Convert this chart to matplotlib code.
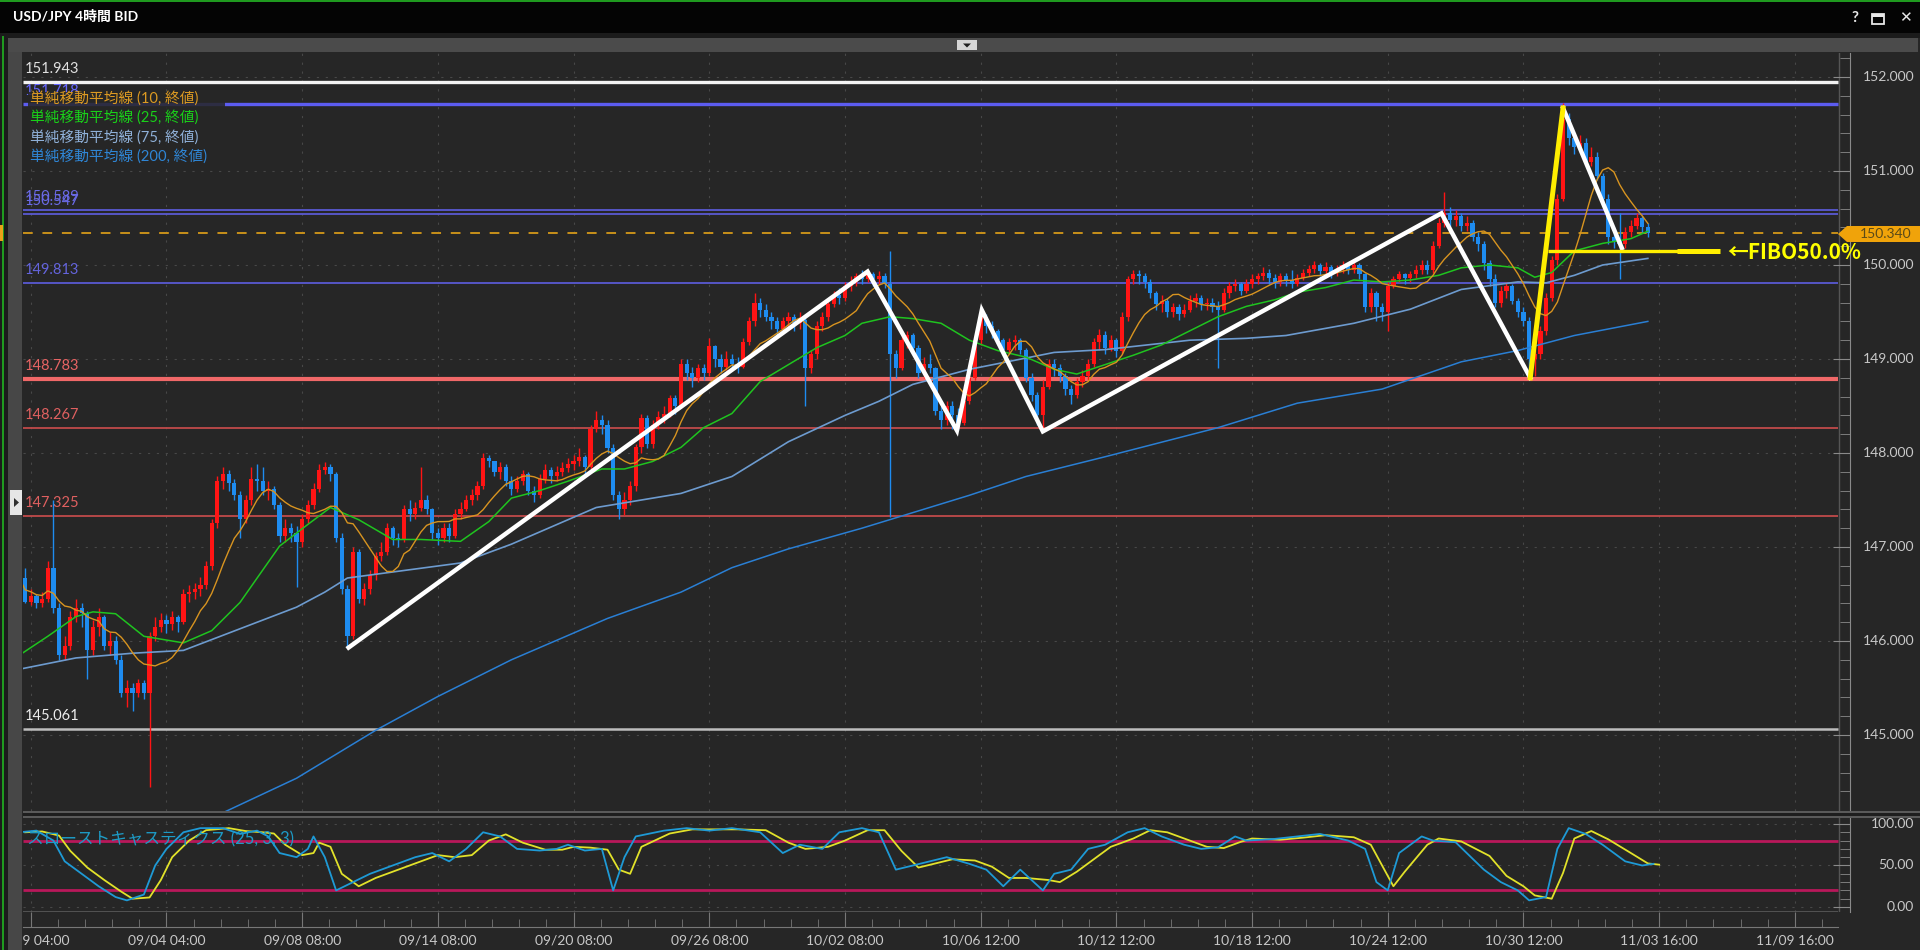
import numpy as np
import pandas as pd
import matplotlib
matplotlib.use("Agg")
import matplotlib.pyplot as plt
import matplotlib.transforms as mtransforms
from matplotlib.patches import Rectangle, Polygon

plt.rcParams['font.family'] = ['Lato', 'Noto Sans CJK JP', 'DejaVu Sans']

W, H = 1920, 950

#==============================================================
# data (4H candles, bar index -2 .. 286)
#==============================================================
first_bar = -2
open0 = 146.55
closes = [
    146.67, 146.42, 146.48, 146.40, 146.45, 146.78, 146.35, 145.85, 145.95, 146.25,
    146.35, 146.30, 145.90, 146.15, 146.25, 145.95, 146.00, 145.80, 145.45, 145.50,
    145.45, 145.55, 145.45, 146.05, 146.15, 146.22, 146.18, 146.25, 146.20, 146.50,
    146.52, 146.55, 146.60, 146.80, 147.25, 147.70, 147.78, 147.68, 147.55, 147.30,
    147.50, 147.72, 147.70, 147.60, 147.62, 147.45, 147.12, 147.20, 147.15, 147.05,
    147.30, 147.45, 147.62, 147.82, 147.85, 147.78, 147.10, 146.55, 146.05, 146.95,
    146.45, 146.55, 146.70, 146.90, 146.95, 147.20, 147.10, 147.08, 147.40, 147.35,
    147.42, 147.50, 147.40, 147.15, 147.10, 147.20, 147.12, 147.35, 147.40, 147.50,
    147.55, 147.65, 147.95, 147.92, 147.80, 147.85, 147.70, 147.62, 147.70, 147.78,
    147.60, 147.55, 147.72, 147.82, 147.75, 147.80, 147.84, 147.88, 147.92, 147.96,
    147.85, 148.25, 148.35, 148.30, 148.05, 147.55, 147.40, 147.50, 147.65, 148.06,
    148.37, 148.10, 148.30, 148.38, 148.42, 148.58, 148.50, 148.95, 148.85, 148.80,
    148.90, 148.85, 149.14, 149.00, 148.92, 149.00, 148.95, 148.92, 149.18, 149.40,
    149.60, 149.52, 149.45, 149.40, 149.32, 149.40, 149.45, 149.38, 149.42, 148.90,
    149.05, 149.35, 149.45, 149.58, 149.68, 149.65, 149.78, 149.82, 149.88, 149.85,
    149.90, 149.85, 149.88, 149.80, 149.05, 148.90, 149.20, 149.25, 149.12, 148.85,
    148.95, 148.90, 148.45, 148.35, 148.50, 148.40, 148.32, 148.55, 148.80, 149.20,
    149.45, 149.35, 149.30, 149.20, 149.10, 149.18, 149.20, 149.10, 148.80, 148.62,
    148.40, 148.70, 148.95, 148.90, 148.82, 148.68, 148.62, 148.75, 148.82, 148.95,
    149.18, 149.25, 149.12, 149.20, 149.08, 149.45, 149.85, 149.90, 149.88, 149.82,
    149.70, 149.58, 149.62, 149.50, 149.55, 149.48, 149.52, 149.62, 149.65, 149.58,
    149.60, 149.55, 149.52, 149.70, 149.78, 149.80, 149.72, 149.80, 149.85, 149.88,
    149.92, 149.86, 149.82, 149.88, 149.84, 149.80, 149.86, 149.92, 149.96, 150.00,
    149.94, 149.98, 149.92, 149.96, 150.00, 149.95, 150.00, 149.90, 149.55, 149.70,
    149.55, 149.50, 149.78, 149.85, 149.90, 149.86, 149.90, 149.95, 150.00, 149.95,
    150.20, 150.45, 150.55, 150.48, 150.52, 150.42, 150.45, 150.30, 150.22, 150.02,
    149.85, 149.60, 149.72, 149.78, 149.62, 149.50, 149.40, 149.00, 149.05, 149.30,
    149.65, 150.05, 150.70, 151.55, 151.35, 151.25, 151.30, 151.10, 151.15, 150.95,
    150.70, 150.30, 150.25, 150.22, 150.35, 150.42, 150.50, 150.40, 150.34,
]
highs = [
    146.75, 146.78, 146.55, 146.50, 146.52, 146.85, 147.50, 146.40, 146.05, 146.32,
    146.45, 146.40, 146.32, 146.22, 146.35, 146.28, 146.10, 146.05, 145.85, 145.58,
    145.55, 145.60, 145.58, 146.10, 146.25, 146.30, 146.28, 146.32, 146.28, 146.55,
    146.60, 146.62, 146.68, 146.85, 147.30, 147.75, 147.85, 147.82, 147.72, 147.60,
    147.55, 147.85, 147.88, 147.85, 147.70, 147.65, 147.48, 147.30, 147.25, 147.22,
    147.35, 147.50, 147.68, 147.88, 147.90, 147.88, 147.80, 147.15, 146.60, 147.00,
    146.98, 146.62, 146.75, 146.95, 147.05, 147.25, 147.22, 147.15, 147.45, 147.50,
    147.48, 147.85, 147.55, 147.42, 147.20, 147.25, 147.25, 147.40, 147.48, 147.55,
    147.62, 147.70, 148.00, 147.98, 147.92, 147.90, 147.88, 147.75, 147.76, 147.82,
    147.80, 147.65, 147.78, 147.88, 147.85, 147.86, 147.90, 147.95, 147.98, 148.05,
    147.98, 148.30, 148.45, 148.40, 148.35, 148.10, 147.60, 147.58, 147.70, 148.10,
    148.42, 148.40, 148.35, 148.45, 148.50, 148.62, 148.62, 149.00, 149.00, 148.92,
    148.95, 148.95, 149.22, 149.15, 149.05, 149.08, 149.05, 149.02, 149.22, 149.45,
    149.70, 149.65, 149.58, 149.50, 149.45, 149.45, 149.50, 149.48, 149.50, 149.45,
    149.10, 149.40, 149.50, 149.62, 149.72, 149.75, 149.82, 149.88, 149.92, 149.95,
    149.95, 149.93, 149.94, 149.92, 150.15, 149.10, 149.25, 149.30, 149.28, 149.15,
    149.02, 149.05, 148.92, 148.50, 148.55, 148.55, 148.48, 148.60, 148.85, 149.25,
    149.52, 149.48, 149.40, 149.32, 149.22, 149.22, 149.25, 149.22, 149.12, 148.85,
    148.65, 148.78, 149.00, 149.00, 148.95, 148.85, 148.72, 148.80, 148.88, 149.00,
    149.22, 149.32, 149.30, 149.25, 149.22, 149.50, 149.88, 149.95, 149.95, 149.92,
    149.85, 149.72, 149.68, 149.65, 149.60, 149.58, 149.58, 149.68, 149.70, 149.68,
    149.65, 149.65, 149.62, 149.75, 149.82, 149.85, 149.82, 149.85, 149.90, 149.92,
    149.98, 149.96, 149.90, 149.92, 149.92, 149.95, 149.90, 149.96, 150.00, 150.04,
    150.02, 150.03, 150.00, 150.00, 150.04, 150.03, 150.05, 150.02, 149.92, 149.75,
    149.72, 149.60, 149.82, 149.88, 149.94, 149.92, 149.94, 150.00, 150.05, 150.05,
    150.25, 150.50, 150.78, 150.62, 150.58, 150.55, 150.52, 150.48, 150.35, 150.25,
    150.05, 149.90, 149.78, 149.82, 149.80, 149.65, 149.55, 149.45, 149.10, 149.35,
    149.70, 150.10, 150.75, 151.72, 151.62, 151.40, 151.38, 151.35, 151.25, 151.20,
    150.98, 150.75, 150.40, 150.55, 150.40, 150.48, 150.55, 150.52, 150.45,
]
lows = [
    146.50, 146.40, 146.38, 146.35, 146.36, 146.42, 146.30, 145.80, 145.80, 145.90,
    146.20, 146.15, 145.60, 145.85, 146.05, 145.90, 145.85, 145.75, 145.40, 145.30,
    145.25, 145.40, 145.38, 144.45, 146.00, 146.10, 146.08, 146.12, 146.10, 146.18,
    146.42, 146.45, 146.48, 146.55, 146.75, 147.20, 147.62, 147.60, 147.50, 147.10,
    147.25, 147.45, 147.60, 147.55, 147.50, 147.40, 147.05, 147.05, 147.05, 146.57,
    147.00, 147.25, 147.40, 147.58, 147.78, 147.70, 147.05, 146.50, 145.95, 146.02,
    146.40, 146.38, 146.50, 146.65, 146.85, 146.92, 147.02, 147.00, 147.05, 147.28,
    147.30, 147.38, 147.35, 147.08, 147.02, 147.05, 147.05, 147.10, 147.30, 147.38,
    147.45, 147.50, 147.62, 147.85, 147.75, 147.72, 147.65, 147.55, 147.58, 147.66,
    147.55, 147.48, 147.52, 147.68, 147.68, 147.70, 147.75, 147.80, 147.82, 147.86,
    147.78, 147.82, 148.22, 148.20, 148.00, 147.50, 147.30, 147.34, 147.45, 147.60,
    148.00, 148.05, 148.05, 148.25, 148.32, 148.38, 148.42, 148.48, 148.78, 148.70,
    148.75, 148.78, 148.82, 148.92, 148.85, 148.88, 148.88, 148.85, 148.90, 149.15,
    149.35, 149.45, 149.40, 149.32, 149.25, 149.28, 149.35, 149.30, 149.32, 148.50,
    148.85, 149.00, 149.30, 149.40, 149.55, 149.58, 149.62, 149.72, 149.78, 149.80,
    149.82, 149.78, 149.80, 149.75, 147.32, 148.80, 148.88, 149.12, 149.05, 148.80,
    148.80, 148.85, 148.40, 148.25, 148.30, 148.25, 148.24, 148.30, 148.52, 148.78,
    149.15, 149.28, 149.22, 149.15, 149.05, 149.05, 149.10, 149.05, 148.75, 148.55,
    148.30, 148.22, 148.68, 148.82, 148.75, 148.62, 148.52, 148.58, 148.70, 148.78,
    148.92, 149.10, 149.05, 149.08, 149.02, 149.05, 149.40, 149.80, 149.80, 149.75,
    149.65, 149.52, 149.50, 149.45, 149.45, 149.42, 149.45, 149.50, 149.55, 149.52,
    149.52, 149.50, 148.90, 149.50, 149.65, 149.72, 149.68, 149.70, 149.76, 149.80,
    149.84, 149.80, 149.76, 149.78, 149.78, 149.75, 149.78, 149.84, 149.88, 149.92,
    149.88, 149.90, 149.86, 149.88, 149.92, 149.90, 149.92, 149.85, 149.50, 149.50,
    149.40, 149.40, 149.30, 149.75, 149.82, 149.80, 149.82, 149.86, 149.90, 149.90,
    149.92, 150.18, 150.40, 150.40, 150.42, 150.36, 150.36, 150.25, 150.15, 149.95,
    149.78, 149.55, 149.55, 149.65, 149.58, 149.45, 149.35, 148.80, 148.82, 149.00,
    149.25, 149.62, 150.00, 150.68, 151.28, 151.18, 151.20, 151.05, 151.05, 150.90,
    150.65, 150.22, 150.18, 149.85, 150.18, 150.30, 150.38, 150.35, 150.30,
]

# moving averages (bar index, value)
sma25_x = [-2, 3, 8, 11, 15, 20, 27, 32, 37, 44, 49, 53, 58, 64, 69, 76, 81, 85, 90, 95,
           101, 105, 110, 115, 119, 124, 129, 134, 139, 144, 147, 152, 156, 161, 166, 171,
           176, 181, 185, 190, 195, 200, 205, 210, 215, 220, 224, 229, 234, 239, 244, 249,
           253, 258, 263, 266, 269, 273, 278, 283, 286]
sma25_v = [145.85, 146.05, 146.26, 146.31, 146.29, 146.05, 145.98, 146.11, 146.41, 147.01,
           147.24, 147.42, 147.29, 147.08, 147.08, 147.06, 147.27, 147.52, 147.60, 147.70,
           147.83, 147.83, 147.91, 148.06, 148.27, 148.42, 148.76, 148.94, 149.12, 149.25,
           149.38, 149.45, 149.43, 149.38, 149.20, 149.09, 149.02, 148.89, 148.84, 148.94,
           149.04, 149.15, 149.30, 149.45, 149.56, 149.63, 149.71, 149.76, 149.84, 149.82,
           149.84, 149.89, 149.97, 150.00, 149.97, 149.87, 149.92, 150.15, 150.23, 150.28,
           150.36]
sma75_x = [-2, 8, 18, 27, 37, 47, 52, 56, 66, 76, 85, 95, 100, 105, 115, 124, 134, 144,
           150, 156, 166, 181, 190, 205, 215, 222, 234, 244, 253, 263, 268, 273, 278, 286]
sma75_v = [145.70, 145.82, 145.87, 145.90, 146.13, 146.36, 146.52, 146.67, 146.75, 146.83,
           147.03, 147.29, 147.42, 147.47, 147.57, 147.75, 148.12, 148.40, 148.55, 148.73,
           148.89, 149.07, 149.10, 149.20, 149.22, 149.25, 149.38, 149.53, 149.74, 149.82,
           149.81, 149.89, 150.00, 150.07]
sma200_x = [30, 36, 47, 61, 72, 85, 102, 115, 124, 134, 147, 166, 176, 190, 210, 224, 239,
            253, 263, 273, 286]
sma200_v = [144.06, 144.23, 144.54, 145.05, 145.41, 145.80, 146.24, 146.52, 146.78, 146.98,
            147.20, 147.55, 147.75, 147.96, 148.27, 148.53, 148.68, 148.97, 149.09, 149.25,
            149.40]

# slow stochastics %K
stoch_x = [-2, 1, 4, 6, 9, 12, 15, 17, 20, 22, 24, 27, 30, 34, 37, 40, 42, 44, 47, 49,
           50, 52, 54, 57, 60, 64, 68, 71, 74, 77, 80, 83, 86, 90, 93, 95, 98, 101, 103, 105,
           107, 112, 116, 120, 124, 129, 133, 136, 140, 143, 147, 150, 153, 156, 159, 162, 166,
           169, 172, 175, 179, 181, 184, 187, 190, 194, 197, 200, 204, 207, 210, 213, 215, 220,
           224, 228, 233, 236, 238, 240, 242, 246, 248, 252, 257, 260, 263, 265, 268, 270, 272,
           275, 278, 282, 285, 287]
stoch_k = [90, 92, 80, 55, 40, 25, 12, 8, 15, 50, 70, 90, 95, 95, 88, 92, 85, 65, 60, 70,
           85, 60, 20, 30, 40, 50, 60, 65, 55, 70, 90, 85, 70, 68, 70, 75, 68, 70, 20, 60,
           85, 92, 95, 92, 95, 90, 65, 75, 70, 90, 95, 90, 45, 50, 55, 60, 52,
           45, 25, 45, 20, 40, 45, 70, 75, 90, 95, 85, 75, 70, 72, 85, 80, 82,
           85, 88, 80, 70, 30, 20, 65, 85, 80, 78, 45, 30, 20, 8, 12, 70, 95,
           88, 75, 55, 50, 52]

x_labels = ["08/29 04:00", "09/04 04:00", "09/08 08:00", "09/14 08:00", "09/20 08:00",
            "09/26 08:00", "10/02 08:00", "10/06 12:00", "10/12 12:00", "10/18 12:00",
            "10/24 12:00", "10/30 12:00", "11/03 16:00", "11/09 16:00"]

levels = [151.943, 151.718, 150.589, 150.547, 149.813, 148.783, 148.267, 147.325, 145.061]
last_price = 150.340

# hand drawn wave lines (bar index, price)
wave_white1_x = [56.2, 148.0, 163.8, 168.2, 179.0, 249.5, 265.2]
wave_white1_y = [145.93, 149.93, 148.24, 149.52, 148.23, 150.55, 148.80]
wave_yellow_x = [265.2, 271.0]
wave_yellow_y = [148.80, 151.67]
wave_white2_x = [271.0, 281.4]
wave_white2_y = [151.67, 150.18]
fibo_level = 150.15

#==============================================================
# layout helpers (pixels, origin top-left)
#==============================================================
BAR_PX = 5.654
X0_PX = 30.8


def px_to_bar(px):
    return (px - X0_PX) / BAR_PX


def rect(x0, y0, x1, y1):
    return [x0 / W, 1 - y1 / H, (x1 - x0) / W, (y1 - y0) / H]


def price_at(py):
    return 152.0 - (py - 77.0) / 94.0


BG = '#262626'
RED = '#ff1414'
BLUE = '#1e8cf0'
GRID = '#484848'
TXT = '#c8c8c8'

fig = plt.figure(figsize=(19.2, 9.5), dpi=100, facecolor=BG)
ax = fig.add_axes(rect(23, 53, 1850, 811))
ax2 = fig.add_axes(rect(23, 817, 1850, 912))

x_min, x_max = px_to_bar(23), px_to_bar(1850)
x_end = px_to_bar(1838)

for a in (ax, ax2):
    a.set_facecolor(BG)
    a.set_xlim(x_min, x_max)
    for s in ('top', 'left', 'bottom'):
        a.spines[s].set_visible(False)
    a.spines['right'].set_color('#8a8a8a')
    a.axvline(px_to_bar(1839), color='#555555', lw=1, zorder=1)
    for k in range(len(x_labels)):
        a.axvline(24 * k, color=GRID, lw=0.8, ls=(0, (2, 6)), zorder=1)

ax.set_ylim(price_at(811), price_at(53))
ax2.set_ylim(-6.0, 108.4)

#--- price panel --------------------------------------------------------
for p in range(145, 153):
    ax.hlines(p, x_min, x_end, colors=GRID, lw=0.8, linestyles=(0, (2, 6)), zorder=1)

level_style = {
    151.943: ('#f2f2f2', 2.4, '#e0e0e0'),
    151.718: ('#5c5cf0', 2.4, '#6868ff'),
    150.589: ('#5a5ad2', 1.3, '#6a6ae6'),
    150.547: ('#5a5ad2', 1.3, '#6a6ae6'),
    149.813: ('#5a5ad2', 1.3, '#6464dc'),
    148.783: ('#f06868', 3.0, '#e86464'),
    148.267: ('#c04a4a', 1.3, '#e06060'),
    147.325: ('#c04a4a', 1.3, '#e06060'),
    145.061: ('#bdbdbd', 1.8, '#ececec'),
}
for lv in levels:
    lc, lw, tc = level_style[lv]
    ax.hlines(lv, x_min, x_end, colors=lc, lw=lw, zorder=2)
    ax.text(px_to_bar(25), lv + 13 / 94, f"{lv:.3f}", color=tc, fontsize=10.5,
            va='center', ha='left', zorder=2)

ax.hlines(last_price, x_min, x_end, colors='#c8901a', lw=1.4,
          linestyles=(0, (5, 5)), zorder=2)

# candles
c = np.array(closes)
hi = np.array(highs)
lo = np.array(lows)
o = np.concatenate([[open0], c[:-1]])
idx = np.arange(first_bar, first_bar + len(c))
col = np.where(c >= o, RED, BLUE)
ax.vlines(idx, lo, hi, colors=col, lw=1, zorder=3)
ax.bar(idx, np.maximum(np.abs(c - o), 0.012), bottom=np.minimum(o, c), width=0.74,
       color=col, lw=0, zorder=3)

# moving averages
sma10 = pd.Series(c).rolling(10, min_periods=1).mean()
ax.plot(sma200_x, sma200_v, color='#2a7fd4', lw=1.1, zorder=4)
ax.plot(sma75_x, sma75_v, color='#6d9bcf', lw=1.2, zorder=4)
ax.plot(sma25_x, sma25_v, color='#1fc41f', lw=1.1, zorder=4)
ax.plot(idx, sma10, color='#d89420', lw=1.0, zorder=4)

# wave lines + fibo
ax.plot(wave_white1_x, wave_white1_y, color='white', lw=3.2, zorder=6,
        solid_joinstyle='miter')
ax.plot(wave_white2_x, wave_white2_y, color='white', lw=3.2, zorder=6)
ax.plot(wave_yellow_x, wave_yellow_y, color='#ffee00', lw=3.6, zorder=6)
ax.hlines(fibo_level, px_to_bar(1548), px_to_bar(1680), colors='#ffee00', lw=2.4, zorder=6)
ax.hlines(fibo_level, px_to_bar(1677), px_to_bar(1720), colors='#ffee00', lw=3.6, zorder=6)
ax.text(px_to_bar(1727), price_at(253), "←FIBO50.0%", color='#ffff00', fontsize=15,
        fontweight='bold', family=['Noto Sans CJK JP', 'DejaVu Sans'],
        va='center', ha='left', zorder=10, clip_on=False)

ax.set_xticks([])
ax.set_yticks(range(145, 153))
ax.set_yticks(np.arange(144.4, 152.3, 0.2), minor=True)
ax.yaxis.tick_right()
ax.tick_params(axis='y', which='major', direction='in', length=12, color='#8a8a8a',
               labelright=False)
ax.tick_params(axis='y', which='minor', direction='in', length=7, color='#8a8a8a')

lab_tr = mtransforms.blended_transform_factory(fig.transFigure, ax.transData)
for p in range(145, 153):
    ax.text(1914 / W, p, f"{p:.3f}", transform=lab_tr, ha='right', va='center',
            fontsize=10, color=TXT)

#--- stochastics panel --------------------------------------------------
for v in (0, 50, 100):
    ax2.hlines(v, x_min, x_end, colors=GRID, lw=0.8, linestyles=(0, (2, 6)), zorder=1)
ax2.hlines([80, 20], x_min, x_end, colors='#b8185a', lw=2, zorder=2)
stoch_d = pd.Series(stoch_k).rolling(2, min_periods=1).mean()
ax2.plot(np.array(stoch_x) + 1, stoch_d, color='#e2e22a', lw=1.3, zorder=3)
ax2.plot(stoch_x, stoch_k, color='#1e9ad6', lw=1.3, zorder=4)
ax2.text(px_to_bar(27), 82, "スローストキャスティクス (25, 3, 3)", color='#1d9bc6',
         fontsize=12, va='center', ha='left', zorder=5)

ax2.set_yticks([0, 50, 100])
ax2.set_yticks(range(0, 101, 10), minor=True)
ax2.yaxis.tick_right()
ax2.tick_params(axis='y', which='major', direction='in', length=12, color='#8a8a8a',
                labelright=False)
ax2.tick_params(axis='y', which='minor', direction='in', length=7, color='#8a8a8a')
lab_tr2 = mtransforms.blended_transform_factory(fig.transFigure, ax2.transData)
for v in (0, 50, 100):
    ax2.text(1914 / W, v, f"{v:.2f}", transform=lab_tr2, ha='right', va='center',
             fontsize=10, color=TXT)

ax2.spines['bottom'].set_visible(True)
ax2.spines['bottom'].set_position(('outward', 11))
ax2.spines['bottom'].set_color('#777777')
ax2.spines['bottom'].set_bounds(x_min, x_end)
ax2.set_xticks(np.arange(len(x_labels)) * 24)
ax2.set_xticklabels(x_labels)
ax2.set_xticks(np.arange(0, x_end, 4.8), minor=True)
ax2.tick_params(axis='x', which='major', direction='in', length=11, color='#777777',
                labelcolor=TXT, labelsize=10, pad=5)
ax2.tick_params(axis='x', which='minor', direction='in', length=6, color='#777777')
ax2.hlines(ax2.get_ylim()[0], x_min, x_end, colors='#5a5a5a', lw=1.2, zorder=2)

#--- window chrome --------------------------------------------------------
def box(x0, y0, x1, y1, color, z=5, **kw):
    fig.patches.append(Rectangle((x0 / W, 1 - y1 / H), (x1 - x0) / W, (y1 - y0) / H,
                                 transform=fig.transFigure, facecolor=color,
                                 edgecolor='none', zorder=z, **kw))

box(0, 0, W, 33, '#040404')
box(0, 33, W, 38, '#1b1b1b')
box(8, 38, 1918, 52, '#4b4b4b')
box(0, 0, W, 2, '#1f9a1f')
box(0, 33, 8, H, '#1b1b1b')
box(2, 36, 3.5, H, '#1f9a1f')
box(8, 52, 22, H, '#474747')
box(0, 225, 3, 241, '#e8a317', z=6)
box(23, 811, W, 812.5, '#5a5a5a')
box(23, 816, W, 817.5, '#5a5a5a')
box(23, 812.5, W, 816, '#1e1e1e')

# legend backdrop + legend entries
box(28, 92, 225, 166, BG, z=5, alpha=0.86)
legend_entries = ["単純移動平均線 (10, 終値)", "単純移動平均線 (25, 終値)",
                  "単純移動平均線 (75, 終値)", "単純移動平均線 (200, 終値)"]
legend_colors = ['#dc9a22', '#19d019', '#8fb0d8', '#2f86d6']
for k, (t, tc) in enumerate(zip(legend_entries, legend_colors)):
    fig.text(30 / W, 1 - (98 + 19.5 * k) / H, t, color=tc, fontsize=10.6,
             va='center', ha='left', zorder=6)

# dropdown and side buttons
box(957, 40, 977, 50, '#d6d6d6', z=6)
fig.patches.append(Polygon([[963 / W, 1 - 43.5 / H], [971 / W, 1 - 43.5 / H],
                            [967 / W, 1 - 47.5 / H]], closed=True,
                           transform=fig.transFigure, facecolor='#202020', zorder=7))
box(10, 490, 22, 515, '#e6e6e6', z=6)
fig.patches.append(Polygon([[14 / W, 1 - 498 / H], [14 / W, 1 - 507 / H],
                            [19 / W, 1 - 502.5 / H]], closed=True,
                           transform=fig.transFigure, facecolor='#303030', zorder=7))

# current price tag
fig.patches.append(Polygon([[1838 / W, 1 - 234 / H], [1847 / W, 1 - 226 / H],
                            [1920 / W, 1 - 226 / H], [1920 / W, 1 - 242 / H],
                            [1847 / W, 1 - 242 / H]], closed=True,
                           transform=fig.transFigure, facecolor='#f0a30a',
                           edgecolor='none', zorder=6))
fig.text(1886 / W, 1 - 234 / H, f"{last_price:.3f}", color='#5b4a18', fontsize=10,
         ha='center', va='center', zorder=7)

# title bar
fig.text(13 / W, 1 - 16.5 / H, "USD/JPY 4時間 BID", color='white', fontsize=10,
         fontweight='bold', va='center', ha='left', zorder=7)
fig.text(1855 / W, 1 - 18 / H, "?", color='#e8e8e8', fontsize=11, fontweight='bold',
         va='center', ha='center', zorder=7)
fig.patches.append(Rectangle((1872 / W, 1 - 24 / H), 12 / W, 10 / H,
                             transform=fig.transFigure, facecolor='none',
                             edgecolor='#e8e8e8', lw=1.3, zorder=7))
box(1872, 14, 1884, 17, '#e8e8e8', z=7)
fig.text(1905 / W, 1 - 18 / H, "✕", color='#e8e8e8', fontsize=11,
         family=['DejaVu Sans'], va='center', ha='center', zorder=7)

plt.savefig("out.png", dpi=100, facecolor=BG)
